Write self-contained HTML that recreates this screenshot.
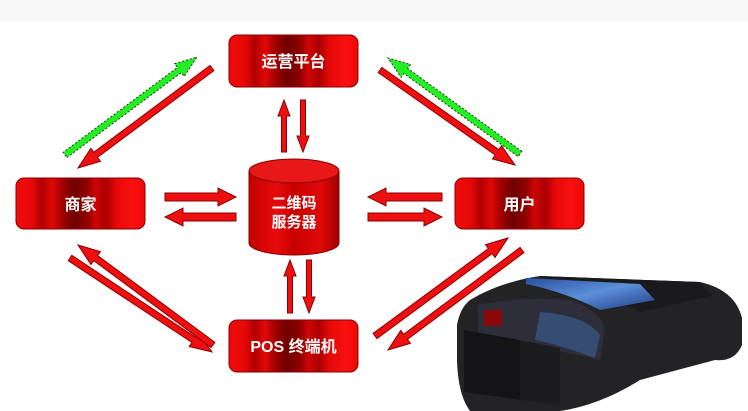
<!DOCTYPE html>
<html><head><meta charset="utf-8"><style>
html,body{margin:0;padding:0;background:#fff;}
svg{display:block}
text{font-family:"Liberation Sans","Noto Sans CJK SC",sans-serif;font-weight:bold;fill:#fff;}
</style></head><body>
<svg width="748" height="411" viewBox="0 0 748 411" xmlns="http://www.w3.org/2000/svg">
<defs>
<linearGradient id="bx" x1="0" y1="0" x2="1" y2="0">
<stop offset="0" stop-color="#f00a0a"/><stop offset="0.12" stop-color="#e80808"/>
<stop offset="0.2" stop-color="#b00000"/><stop offset="0.28" stop-color="#e00808"/>
<stop offset="0.36" stop-color="#a00000"/><stop offset="0.45" stop-color="#700000"/>
<stop offset="0.55" stop-color="#900000"/><stop offset="0.62" stop-color="#d00505"/>
<stop offset="0.7" stop-color="#a80000"/><stop offset="0.78" stop-color="#e80808"/>
<stop offset="0.9" stop-color="#f81010"/><stop offset="1" stop-color="#f00808"/>
</linearGradient>
<linearGradient id="cy" x1="0" y1="0" x2="1" y2="0">
<stop offset="0" stop-color="#c00000"/><stop offset="0.3" stop-color="#e80a0a"/>
<stop offset="0.5" stop-color="#c80000"/><stop offset="0.8" stop-color="#e00808"/>
<stop offset="1" stop-color="#a00000"/>
</linearGradient>
<linearGradient id="scr" x1="0" y1="0" x2="1" y2="1">
<stop offset="0" stop-color="#2a4fa0"/><stop offset="0.5" stop-color="#5b8fd8"/><stop offset="1" stop-color="#1d3c80"/>
</linearGradient>
</defs>
<rect x="0" y="0" width="748" height="22" fill="#f8f8f8"/>

<!-- POS device -->
<path d="M470,300 Q500,282 540,276 L700,282 Q735,290 742,318 L742,345 Q735,362 715,360 L640,380 Q600,405 560,411 L470,411 Q458,395 457,360 L457,325 Q460,308 470,300 Z" fill="#232325"/>
<path d="M540,276 L700,282 L712,296 L640,312 Q610,296 570,288 Z" fill="#1a1a1c"/>
<path d="M526,278 L640,284 L655,300 L600,310 Q565,292 526,284 Z" fill="url(#scr)"/>
<path d="M478,305 Q520,296 570,300 Q600,310 605,330 L600,360 Q560,350 520,345 L478,338 Z" fill="#2e2e3a"/>
<path d="M540,312 Q585,315 600,335 L595,358 Q560,345 535,340 Z" fill="#3a5a8a" opacity="0.7"/>
<rect x="484" y="310" width="18" height="16" fill="#8a0808"/>
<path d="M464,330 L520,340 L520,400 L464,392 Z" fill="#141416"/>
<path d="M520,340 L560,348 L560,405 L520,400 Z" fill="#1c1c1e"/>

<!-- boxes -->
<rect x="229" y="35" width="129" height="52" rx="8" fill="url(#bx)" stroke="#8a0000"/>
<text x="293.5" y="67" font-size="16" text-anchor="middle">运营平台</text>
<rect x="16" y="178" width="129" height="51" rx="8" fill="url(#bx)" stroke="#8a0000"/>
<text x="80.5" y="210" font-size="16" text-anchor="middle">商家</text>
<rect x="455" y="178" width="129" height="51" rx="8" fill="url(#bx)" stroke="#8a0000"/>
<text x="519.5" y="210" font-size="16" text-anchor="middle">用户</text>
<rect x="229" y="320" width="129" height="52" rx="8" fill="url(#bx)" stroke="#8a0000"/>
<text x="293.5" y="352" font-size="16" text-anchor="middle">POS 终端机</text>

<!-- cylinder -->
<path d="M249,171 L249,243 A45,12 0 0 0 339,243 L339,171 Z" fill="url(#cy)" stroke="#8a0000"/>
<ellipse cx="294" cy="171" rx="45" ry="12" fill="#e81818" stroke="#8a0000"/>
<text x="294" y="208" font-size="15" text-anchor="middle">二维码</text>
<text x="294" y="227" font-size="15" text-anchor="middle">服务器</text>

<g id="arrows"></g>
</svg>
<script>
function arr(x1,y1,x2,y2,fill,dash,sw,hw,hl){
 sw=sw||3.2;hw=hw||8;hl=hl||22;
 var dx=x2-x1,dy=y2-y1,L=Math.hypot(dx,dy),ux=dx/L,uy=dy/L,px=-uy,py=ux;
 var bx=x2-ux*hl,by=y2-uy*hl;
 var p=[[x1+px*sw,y1+py*sw],[bx+px*sw,by+py*sw],[bx+px*hw,by+py*hw],[x2,y2],[bx-px*hw,by-py*hw],[bx-px*sw,by-py*sw],[x1-px*sw,y1-py*sw]];
 var s='<polygon points="'+p.map(function(q){return q[0].toFixed(1)+','+q[1].toFixed(1)}).join(' ')+'" fill="'+fill+'" stroke="'+(dash?'#333':'#8a0000')+'" stroke-width="1"'+(dash?' stroke-dasharray="2,2"':'')+'/>';
 return s;
}
var R='#ee1010',G='#22ee22',h='';
h+=arr(65,155,197,57,G,1);
h+=arr(212,68,78,168,R);
h+=arr(520,154,388,58,G,1);
h+=arr(380,70,515,165,R);
h+=arr(70,258,212,352,R);
h+=arr(213,345,78,245,R);
h+=arr(375,336,508,238,R);
h+=arr(522,250,388,350,R);
h+=arr(165,197,236,197,R,0,4,9,18);
h+=arr(236,217,165,217,R,0,4,9,18);
h+=arr(442,197,368,197,R,0,4,9,18);
h+=arr(368,217,442,217,R,0,4,9,18);
h+=arr(284,152,284,100,R,0,2.5,6,16);
h+=arr(303,100,303,152,R,0,2.5,6,16);
h+=arr(290,313,290,260,R,0,2.5,6,16);
h+=arr(309,260,309,313,R,0,2.5,6,16);
document.getElementById('arrows').innerHTML=h;
</script>
</body></html>
